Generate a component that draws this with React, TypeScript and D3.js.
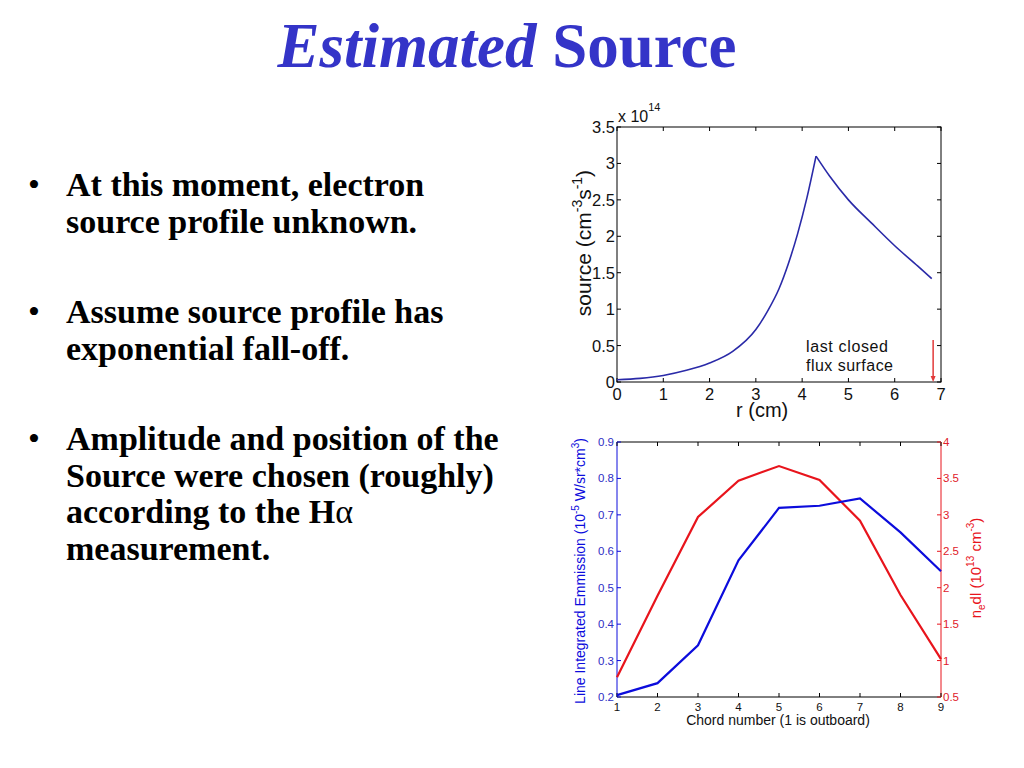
import * as d3 from 'd3';

// top chart: estimated source profile (units of 1e14 cm^-3 s^-1)
const sourceR = [0, 0.5, 1, 1.5, 2, 2.5, 3, 3.25, 3.5, 3.7, 3.9, 4.1, 4.3, 4.6, 5, 5.5, 6, 6.5, 6.8];
const sourceVal = [0.03, 0.05, 0.09, 0.16, 0.26, 0.42, 0.72, 0.97, 1.28, 1.62, 2.03, 2.52, 3.1, 2.82, 2.5, 2.18, 1.87, 1.59, 1.42];
const peakIndex = 12;
const rTicks = [0, 1, 2, 3, 4, 5, 6, 7];
const sourceTicks = [0, 0.5, 1, 1.5, 2, 2.5, 3, 3.5];
const lcfsR = 6.83;

// bottom chart: chord measurements
const chords = [1, 2, 3, 4, 5, 6, 7, 8, 9];
const emission = [0.205, 0.238, 0.342, 0.575, 0.719, 0.725, 0.745, 0.652, 0.545];
const density = [0.77, 1.89, 2.97, 3.47, 3.67, 3.48, 2.92, 1.9, 1.02];
const emissionTicks = [0.2, 0.3, 0.4, 0.5, 0.6, 0.7, 0.8, 0.9];
const densityTicks = [0.5, 1, 1.5, 2, 2.5, 3, 3.5, 4];

const bullets = [
  ['At this moment, electron', 'source profile unknown.'],
  ['Assume source profile has', 'exponential fall-off.'],
  ['Amplitude and position of the', 'Source were chosen (roughly)', 'according to the H', 'measurement.'],
];
const bulletTops = [196, 323, 450];

const SANS = '"Liberation Sans", Arial, sans-serif';
const SERIF = '"Liberation Serif", "Times New Roman", serif';
const BLUE = '#0c0cdc';
const RED = '#e8141c';

function TopChart() {
  const x = d3.scaleLinear().domain([0, 7]).range([617, 941]);
  const y = d3.scaleLinear().domain([0, 3.5]).range([382, 127]);
  const pts = sourceR.map((r, i) => ({ r, v: sourceVal[i] }));
  const line = d3.line<{ r: number; v: number }>()
    .x(d => x(d.r))
    .y(d => y(d.v))
    .curve(d3.curveMonotoneX);
  // draw rise and fall separately so the peak stays sharp
  const rise = line(pts.slice(0, peakIndex + 1)) || '';
  const fall = line(pts.slice(peakIndex)) || '';
  const [x0, x1] = x.range();
  const [y0, y1] = y.range();
  const tl = 4;

  return (
    <g fontFamily={SANS}>
      <rect x={x0} y={y1} width={x1 - x0} height={y0 - y1} fill="none" stroke="#000" strokeWidth={1} />
      {rTicks.map(t => (
        <g key={t}>
          <line x1={x(t)} x2={x(t)} y1={y0} y2={y0 - tl} stroke="#000" />
          <line x1={x(t)} x2={x(t)} y1={y1} y2={y1 + tl} stroke="#000" />
          <text x={x(t)} y={400} textAnchor="middle" fontSize={16.5} fill="#111">{t}</text>
        </g>
      ))}
      {sourceTicks.map(t => (
        <g key={t}>
          <line x1={x0} x2={x0 + tl} y1={y(t)} y2={y(t)} stroke="#000" />
          <line x1={x1} x2={x1 - tl} y1={y(t)} y2={y(t)} stroke="#000" />
          <text x={615} y={y(t) + 6} textAnchor="end" fontSize={16.5} fill="#111">{t}</text>
        </g>
      ))}
      <text x={618} y={122} fontSize={16} fill="#111">
        x 10<tspan fontSize={11} dy={-11}>14</tspan>
      </text>
      <text x={736} y={417} fontSize={20} fill="#111">r (cm)</text>
      <text transform="translate(591,243) rotate(-90)" textAnchor="middle" fontSize={21} fill="#111">
        source (cm<tspan fontSize={14} dy={-9}>-3</tspan><tspan dy={9}>s</tspan>
        <tspan fontSize={14} dy={-9}>-1</tspan><tspan dy={9}>)</tspan>
      </text>
      <path d={rise} fill="none" stroke="#2a2aa8" strokeWidth={1.6} />
      <path d={fall} fill="none" stroke="#2a2aa8" strokeWidth={1.6} />
      <text x={806} y={352} fontSize={16} fill="#111" textLength={82} lengthAdjust="spacing">last closed</text>
      <text x={806} y={371} fontSize={16} fill="#111" textLength={87} lengthAdjust="spacing">flux surface</text>
      <line x1={x(lcfsR)} x2={x(lcfsR)} y1={340} y2={y0 - 4} stroke="#e23a3a" strokeWidth={1.5} />
      <path d={`M${x(lcfsR) - 2.5},${y0 - 6} L${x(lcfsR) + 2.5},${y0 - 6} L${x(lcfsR)},${y0} Z`} fill="#e23a3a" />
    </g>
  );
}

function BottomChart() {
  const x = d3.scaleLinear().domain([1, 9]).range([617, 941]);
  const yL = d3.scaleLinear().domain([0.2, 0.9]).range([697, 442]);
  const yR = d3.scaleLinear().domain([0.5, 4]).range([697, 442]);
  const [x0, x1] = x.range();
  const [y0, y1] = yL.range();
  const tl = 4;
  const blueLine = d3.line<number>().x((_, i) => x(chords[i])).y(d => yL(d))(emission) || '';
  const redLine = d3.line<number>().x((_, i) => x(chords[i])).y(d => yR(d))(density) || '';

  return (
    <g fontFamily={SANS}>
      <line x1={x0} x2={x1} y1={y1} y2={y1} stroke="#000" />
      <line x1={x0} x2={x1} y1={y0} y2={y0} stroke="#000" />
      <line x1={x0} x2={x0} y1={y0} y2={y1} stroke={BLUE} />
      <line x1={x1} x2={x1} y1={y0} y2={y1} stroke={RED} />
      {chords.map(c => (
        <g key={c}>
          <line x1={x(c)} x2={x(c)} y1={y0} y2={y0 - tl} stroke="#000" />
          <line x1={x(c)} x2={x(c)} y1={y1} y2={y1 + tl} stroke="#000" />
          <text x={x(c)} y={711} textAnchor="middle" fontSize={11.5} fill="#111">{c}</text>
        </g>
      ))}
      {emissionTicks.map(t => (
        <g key={t}>
          <line x1={x0} x2={x0 + tl} y1={yL(t)} y2={yL(t)} stroke={BLUE} />
          <text x={614} y={yL(t) + 4} textAnchor="end" fontSize={11.5} fill="#2e2ec4">{t.toFixed(1)}</text>
        </g>
      ))}
      {densityTicks.map(t => (
        <g key={t}>
          <line x1={x1} x2={x1 - tl} y1={yR(t)} y2={yR(t)} stroke={RED} />
          <text x={943} y={yR(t) + 4} fontSize={11.5} fill="#e0202a">{t}</text>
        </g>
      ))}
      <text x={778} y={725} textAnchor="middle" fontSize={14} fill="#111">Chord number (1 is outboard)</text>
      <text transform="translate(585,571) rotate(-90)" textAnchor="middle" fontSize={14} fill={BLUE}>
        Line Integrated Emmission (10<tspan fontSize={10} dy={-6}>-5</tspan>
        <tspan dy={6}> W/sr*cm</tspan><tspan fontSize={10} dy={-6}>3</tspan><tspan dy={6}>)</tspan>
      </text>
      <text transform="translate(981,568) rotate(-90)" textAnchor="middle" fontSize={15} fill={RED}>
        n<tspan fontSize={10} dy={4}>e</tspan><tspan dy={-4}>dl (10</tspan>
        <tspan fontSize={10} dy={-7}>13</tspan><tspan dy={7}> cm</tspan>
        <tspan fontSize={10} dy={-7}>-3</tspan><tspan dy={7}>)</tspan>
      </text>
      <path d={redLine} fill="none" stroke={RED} strokeWidth={2.2} />
      <path d={blueLine} fill="none" stroke={BLUE} strokeWidth={2.2} />
    </g>
  );
}

export default function App() {
  return (
    <div style={{ position: 'absolute', left: 0, top: 0 }}>
      <svg width={1024} height={768} style={{ display: 'block', background: '#fff' }}>
        <text x={507} y={67} textAnchor="middle" fontFamily={SERIF} fontSize={63} fill="#3434c8" fontWeight="bold">
          <tspan fontStyle="italic">Estimated</tspan> Source
        </text>
        <g fontFamily={SERIF} fontWeight="bold" fontSize={34} fill="#000">
          {bullets.map((lines, b) => (
            <g key={b}>
              <text x={28} y={bulletTops[b]} fontWeight="normal">•</text>
              {lines.map((l, i) => (
                <text key={i} x={66} y={bulletTops[b] + i * 36.5}>
                  {l}
                  {b === 2 && i === 2 ? <tspan fontWeight="normal">α</tspan> : null}
                </text>
              ))}
            </g>
          ))}
        </g>
        <TopChart />
        <BottomChart />
      </svg>
    </div>
  );
}
